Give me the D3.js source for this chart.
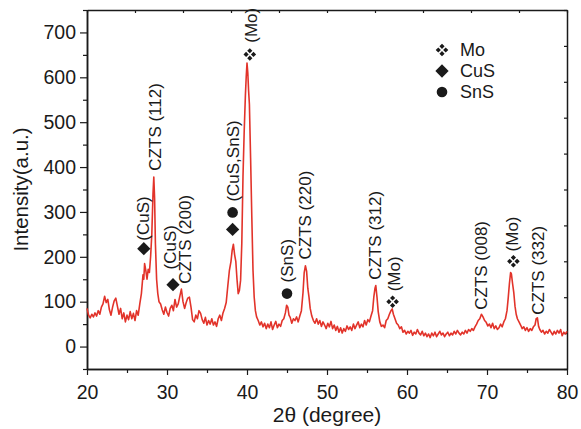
<!DOCTYPE html>
<html>
<head>
<meta charset="utf-8">
<script src="https://cdn.jsdelivr.net/npm/d3@7"></script>
<style>
  body { margin: 0; background: #fff; }
  svg { display: block; font-family: "Liberation Sans", Arial, sans-serif; }
</style>
</head>
<body>
<div id="chart-container"></div>
<script>
// XRD scan: [2theta, intensity]
const scan = [
  [20.0, 85], [20.2, 70], [20.4, 64], [20.6, 72], [20.8, 66], [21.0, 75], [21.2, 68], [21.4, 80], [21.6, 72], [21.8, 88],
  [22.0, 95], [22.2, 112], [22.4, 98], [22.6, 105], [22.8, 82], [23.0, 70], [23.2, 88], [23.4, 102], [23.6, 108], [23.8, 90],
  [24.0, 72], [24.2, 85], [24.4, 62], [24.6, 75], [24.8, 55], [25.0, 70], [25.2, 60], [25.4, 78], [25.6, 62], [25.8, 74],
  [26.0, 58], [26.2, 80], [26.4, 70], [26.6, 95], [26.8, 118], [27.0, 160], [27.1, 150], [27.2, 185], [27.35, 170], [27.5, 150],
  [27.65, 172], [27.8, 165], [27.95, 200], [28.1, 250], [28.25, 340], [28.35, 378], [28.45, 330], [28.55, 230], [28.7, 150], [28.85, 118],
  [29.0, 100], [29.2, 95], [29.4, 82], [29.6, 72], [29.8, 88], [30.0, 76], [30.2, 68], [30.4, 85], [30.6, 92], [30.8, 80],
  [31.0, 105], [31.2, 88], [31.4, 95], [31.6, 112], [31.8, 128], [32.0, 100], [32.2, 85], [32.4, 98], [32.6, 108], [32.8, 110],
  [33.0, 88], [33.2, 60], [33.4, 55], [33.6, 70], [33.8, 62], [34.0, 80], [34.2, 74], [34.4, 60], [34.6, 52], [34.8, 65],
  [35.0, 48], [35.2, 58], [35.4, 50], [35.6, 62], [35.8, 48], [36.0, 55], [36.2, 45], [36.4, 62], [36.6, 70], [36.8, 58],
  [37.0, 75], [37.2, 85], [37.4, 98], [37.6, 135], [37.8, 170], [38.0, 190], [38.15, 215], [38.3, 228], [38.45, 205], [38.6, 190],
  [38.75, 150], [38.9, 118], [39.05, 125], [39.2, 148], [39.35, 230], [39.5, 380], [39.65, 480], [39.8, 560], [39.9, 600], [40.0, 632],
  [40.1, 610], [40.2, 570], [40.3, 540], [40.45, 420], [40.6, 290], [40.75, 170], [40.9, 110], [41.05, 80], [41.2, 66], [41.4, 58],
  [41.6, 48], [41.8, 55], [42.0, 44], [42.2, 52], [42.4, 40], [42.6, 50], [42.8, 42], [43.0, 55], [43.2, 38], [43.4, 48],
  [43.6, 56], [43.8, 42], [44.0, 50], [44.2, 45], [44.4, 58], [44.6, 62], [44.8, 75], [44.95, 92], [45.1, 88], [45.25, 70],
  [45.4, 65], [45.6, 52], [45.8, 62], [46.0, 58], [46.2, 66], [46.4, 55], [46.6, 68], [46.8, 80], [47.0, 120], [47.15, 165],
  [47.3, 180], [47.45, 168], [47.6, 130], [47.75, 110], [47.9, 85], [48.1, 68], [48.3, 58], [48.5, 52], [48.7, 62], [48.9, 50],
  [49.1, 58], [49.3, 45], [49.5, 55], [49.7, 48], [49.9, 40], [50.1, 52], [50.3, 44], [50.5, 56], [50.7, 40], [50.9, 48],
  [51.1, 36], [51.3, 45], [51.5, 32], [51.7, 42], [51.9, 30], [52.1, 40], [52.3, 34], [52.5, 46], [52.7, 38], [52.9, 44],
  [53.1, 36], [53.3, 50], [53.5, 40], [53.7, 48], [53.9, 55], [54.1, 42], [54.3, 50], [54.5, 44], [54.7, 58], [54.9, 48],
  [55.1, 60], [55.3, 55], [55.5, 68], [55.7, 80], [55.85, 110], [56.0, 130], [56.1, 136], [56.25, 110], [56.4, 78], [56.6, 55],
  [56.8, 45], [57.0, 48], [57.2, 42], [57.4, 58], [57.6, 62], [57.8, 72], [58.0, 80], [58.15, 84], [58.3, 72], [58.5, 62],
  [58.7, 52], [58.9, 48], [59.1, 40], [59.3, 44], [59.5, 32], [59.7, 36], [59.9, 28], [60.1, 34], [60.3, 30], [60.5, 36],
  [60.7, 25], [60.9, 32], [61.1, 28], [61.3, 38], [61.5, 30], [61.7, 26], [61.9, 34], [62.1, 24], [62.3, 30], [62.5, 22],
  [62.7, 28], [62.9, 20], [63.1, 30], [63.3, 24], [63.5, 32], [63.7, 22], [63.9, 28], [64.1, 34], [64.3, 26], [64.5, 30],
  [64.7, 22], [64.9, 28], [65.1, 32], [65.3, 24], [65.5, 30], [65.7, 26], [65.9, 34], [66.1, 28], [66.3, 36], [66.5, 30],
  [66.7, 26], [66.9, 32], [67.1, 28], [67.3, 36], [67.5, 30], [67.7, 38], [67.9, 34], [68.1, 40], [68.3, 36], [68.5, 44],
  [68.7, 50], [68.9, 58], [69.1, 62], [69.3, 72], [69.5, 66], [69.7, 58], [69.9, 54], [70.1, 46], [70.3, 50], [70.5, 42],
  [70.7, 52], [70.9, 40], [71.1, 46], [71.3, 38], [71.5, 42], [71.7, 50], [71.9, 44], [72.1, 55], [72.3, 62], [72.5, 80],
  [72.65, 108], [72.8, 140], [72.95, 165], [73.05, 162], [73.2, 140], [73.35, 120], [73.5, 90], [73.65, 72], [73.8, 62], [74.0, 55],
  [74.2, 48], [74.4, 40], [74.6, 44], [74.8, 36], [75.0, 42], [75.2, 34], [75.4, 40], [75.6, 36], [75.8, 44], [76.0, 48],
  [76.15, 62], [76.3, 64], [76.45, 45], [76.6, 38], [76.8, 32], [77.0, 36], [77.2, 28], [77.4, 34], [77.6, 30], [77.8, 38],
  [78.0, 32], [78.2, 26], [78.4, 34], [78.6, 28], [78.8, 36], [79.0, 30], [79.2, 38], [79.4, 24], [79.6, 32], [79.8, 28],
  [80.0, 34]
]

// peak labels (rotated), 2theta and intensity where the text starts
const labelText = ['(CuS)', 'CZTS (112)', '(CuS)', 'CZTS (200)', '(CuS,SnS)', '(Mo)', '(SnS)', 'CZTS (220)', 'CZTS (312)', '(Mo)', 'CZTS (008)', '(Mo)', 'CZTS (332)']
const labelTheta = [27.0, 28.45, 30.35, 32.3, 38.2, 40.45, 45.0, 47.3, 56.0, 58.35, 69.3, 73.1, 76.4]
const labelBase = [236, 392, 172, 140, 323, 677, 143, 194, 149, 123, 82, 212, 71]

// phase markers
const markerPhase = ['CuS', 'CuS', 'SnS', 'CuS', 'Mo', 'SnS', 'Mo', 'Mo']
const markerTheta = [27.1, 30.75, 38.2, 38.2, 40.35, 45.0, 58.2, 73.3]
const markerValue = [218, 138, 299, 261, 651, 118, 100, 190]

const legendPhases = ['Mo', 'CuS', 'SnS']
const xTicks = [20, 30, 40, 50, 60, 70, 80]
const xMinor = [25, 35, 45, 55, 65, 75]
const yTicks = [0, 100, 200, 300, 400, 500, 600, 700]
const yMinor = [-50, 50, 150, 250, 350, 450, 550, 650, 750]

const width = 581
const height = 429
const marginTop = 10
const marginRight = 12
const marginBottom = 60
const marginLeft = 87
const ink = '#1a1a1a'

const svg = d3.select('#chart-container')
  .append('svg')
  .attr('width', width)
  .attr('height', height)
  .style('background-color', '#fff')

const xScale = d3.scaleLinear().domain([20, 80]).range([marginLeft, width - marginRight - 2])
const yScale = d3.scaleLinear().domain([-50, 750]).range([height - marginBottom, marginTop])

// mirror axes on top/right have their own 10 even divisions
const topScale = d3.scaleLinear().domain([0, 10]).range(xScale.range())
const rightScale = d3.scaleLinear().domain([0, 10]).range(yScale.range())

function styleAxis (g) {
  g.select('.domain').attr('stroke', ink).attr('stroke-width', 1.5)
  g.selectAll('.tick line').attr('stroke', ink).attr('stroke-width', 1.2)
  g.selectAll('.tick text').attr('fill', ink).style('font-size', '19.5px')
}

const x0 = xScale.range()[0]
const x1 = xScale.range()[1]
const y0 = yScale.range()[0]
const y1 = yScale.range()[1]

svg.append('g')
  .attr('transform', 'translate(0,' + y1 + ')')
  .call(d3.axisTop(topScale).ticks(10).tickSize(-3).tickSizeOuter(0).tickFormat(''))
  .call(styleAxis)

svg.append('g')
  .attr('transform', 'translate(' + x1 + ',0)')
  .call(d3.axisRight(rightScale).ticks(10).tickSize(-3).tickSizeOuter(0).tickFormat(''))
  .call(styleAxis)

svg.append('g')
  .attr('transform', 'translate(0,' + y0 + ')')
  .call(d3.axisBottom(xScale).tickValues(xMinor).tickSize(4).tickSizeOuter(0).tickFormat(''))
  .call(styleAxis)

svg.append('g')
  .attr('transform', 'translate(0,' + y0 + ')')
  .call(d3.axisBottom(xScale).tickValues(xTicks).tickSize(6).tickPadding(10).tickSizeOuter(0))
  .call(styleAxis)

svg.append('g')
  .attr('transform', 'translate(' + x0 + ',0)')
  .call(d3.axisLeft(yScale).tickValues(yMinor).tickSize(4).tickSizeOuter(0).tickFormat(''))
  .call(styleAxis)

svg.append('g')
  .attr('transform', 'translate(' + x0 + ',0)')
  .call(d3.axisLeft(yScale).tickValues(yTicks).tickSize(7).tickPadding(4).tickSizeOuter(0))
  .call(styleAxis)

// axis titles
svg.append('text')
  .attr('transform', 'translate(21,' + (y0 + y1) / 2 + ') rotate(-90)')
  .attr('text-anchor', 'middle')
  .attr('dy', '0.35em')
  .attr('fill', ink)
  .style('font-size', '20.5px')
  .text('Intensity(a.u.)')

svg.append('text')
  .attr('x', (x0 + x1) / 2)
  .attr('y', 422)
  .attr('text-anchor', 'middle')
  .attr('fill', ink)
  .style('font-size', '21px')
  .text('2θ (degree)')

// the scan
const line = d3.line()
  .x(d => xScale(d[0]))
  .y(d => yScale(d[1]))

svg.append('path')
  .datum(scan)
  .attr('fill', 'none')
  .attr('stroke', '#e2332a')
  .attr('stroke-width', 1.6)
  .attr('stroke-linejoin', 'round')
  .attr('d', line)

// peak labels
svg.selectAll('.peak-label')
  .data(labelText)
  .enter()
  .append('text')
  .attr('class', 'peak-label')
  .attr('transform', (d, i) => 'translate(' + xScale(labelTheta[i]) + ',' + yScale(labelBase[i]) + ') rotate(-90)')
  .attr('dy', '0.35em')
  .attr('fill', ink)
  .style('font-size', '17px')
  .text(d => d)

// marker shapes
function moPath (r, d) {
  const p = d3.path()
  for (const [cx, cy] of [[0, -d], [d, 0], [0, d], [-d, 0]]) {
    p.moveTo(cx, cy - r)
    p.lineTo(cx + r, cy)
    p.lineTo(cx, cy + r)
    p.lineTo(cx - r, cy)
    p.closePath()
  }
  return p.toString()
}

function drawMarker (g, phase) {
  if (phase === 'Mo') {
    g.append('path').attr('d', moPath(2.6, 3.7)).attr('fill', ink)
  } else if (phase === 'CuS') {
    g.append('path')
      .attr('d', d3.symbol(d3.symbolSquare, 88)())
      .attr('transform', 'rotate(45)')
      .attr('fill', ink)
  } else {
    g.append('circle').attr('r', 5.3).attr('fill', ink)
  }
}

markerPhase.forEach((phase, i) => {
  const g = svg.append('g')
    .attr('transform', 'translate(' + xScale(markerTheta[i]) + ',' + yScale(markerValue[i]) + ')')
  drawMarker(g, phase)
})

// legend
legendPhases.forEach((phase, i) => {
  const g = svg.append('g')
    .attr('transform', 'translate(442,' + (50 + i * 21) + ')')
  drawMarker(g, phase)
  g.append('text')
    .attr('x', 18)
    .attr('dy', '0.35em')
    .attr('fill', ink)
    .style('font-size', '18px')
    .text(phase)
})
</script>
</body>
</html>
